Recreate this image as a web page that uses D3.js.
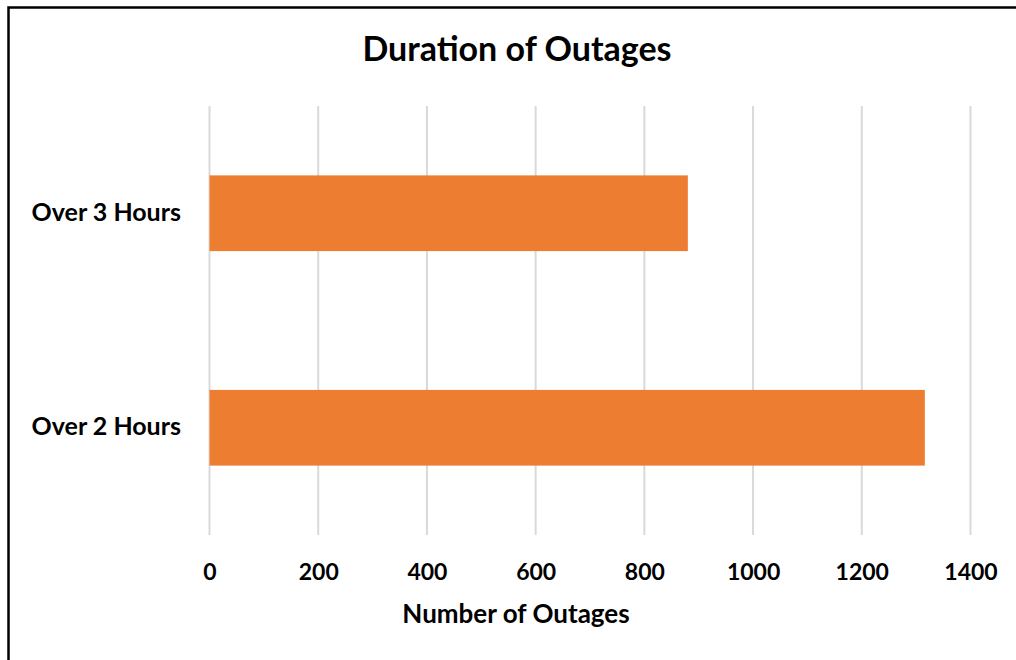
<!DOCTYPE html>
<html>
<head>
<meta charset="utf-8">
<script src="https://cdn.jsdelivr.net/npm/d3@7"></script>
<style>
  body { margin: 0; background: #fff; }
  text { font-family: Lato, "Open Sans", sans-serif; font-weight: bold; fill: #000; }
</style>
</head>
<body>
<svg id="chart" width="1016" height="660"></svg>
<script>
// data
const categories = ['Over 3 Hours', 'Over 2 Hours'];
const outages = [880, 1316];
const xTicks = [0, 200, 400, 600, 800, 1000, 1200, 1400];

const width = 1016;
const height = 660;
const plot = { left: 209.5, right: 970.5, top: 106, bottom: 535 };

const svg = d3.select('#chart');

// frame round the chart, runs off the right and bottom edge
svg.append('rect')
  .attr('x', 8.5)
  .attr('y', 7.5)
  .attr('width', 1100)
  .attr('height', 1000)
  .attr('fill', '#fff')
  .attr('stroke', '#000')
  .attr('stroke-width', 2.5);

const x = d3.scaleLinear()
  .domain([0, 1400])
  .range([plot.left, plot.right]);

const y = d3.scaleBand()
  .domain(categories)
  .range([plot.top, plot.bottom])
  .paddingInner(0.647)
  .paddingOuter(0.3235);

// gridlines
svg.append('g')
  .selectAll('line')
  .data(xTicks)
  .enter()
  .append('line')
  .attr('x1', d => x(d))
  .attr('x2', d => x(d))
  .attr('y1', plot.top)
  .attr('y2', plot.bottom)
  .attr('stroke', '#d9d9d9')
  .attr('stroke-width', 2);

// bars
svg.append('g')
  .selectAll('rect')
  .data(categories)
  .enter()
  .append('rect')
  .attr('x', x(0))
  .attr('y', d => y(d))
  .attr('width', (d, i) => x(outages[i]) - x(0))
  .attr('height', y.bandwidth())
  .attr('fill', '#ed7d31');

// x axis labels
const xAxis = d3.axisBottom(x)
  .tickValues(xTicks)
  .tickFormat(d3.format('d'))
  .tickSize(0)
  .tickPadding(0);
const gx = svg.append('g')
  .attr('transform', 'translate(0,' + 580 + ')')
  .call(xAxis);
gx.select('.domain').remove();
gx.selectAll('text')
  .attr('dy', 0)
  .attr('y', 0)
  .style('font-size', '23px');

// y axis labels
const yAxis = d3.axisLeft(y).tickSize(0).tickPadding(0);
const gy = svg.append('g')
  .attr('transform', 'translate(181,0)')
  .call(yAxis);
gy.select('.domain').remove();
gy.selectAll('text')
  .attr('dy', '0.3em')
  .style('font-size', '25px');

// title
svg.append('text')
  .attr('x', 517)
  .attr('y', 61)
  .attr('text-anchor', 'middle')
  .style('font-size', '34px')
  .text('Duration of Outages');

// axis title
svg.append('text')
  .attr('x', 516)
  .attr('y', 623)
  .attr('text-anchor', 'middle')
  .style('font-size', '26px')
  .text('Number of Outages');
</script>
</body>
</html>
